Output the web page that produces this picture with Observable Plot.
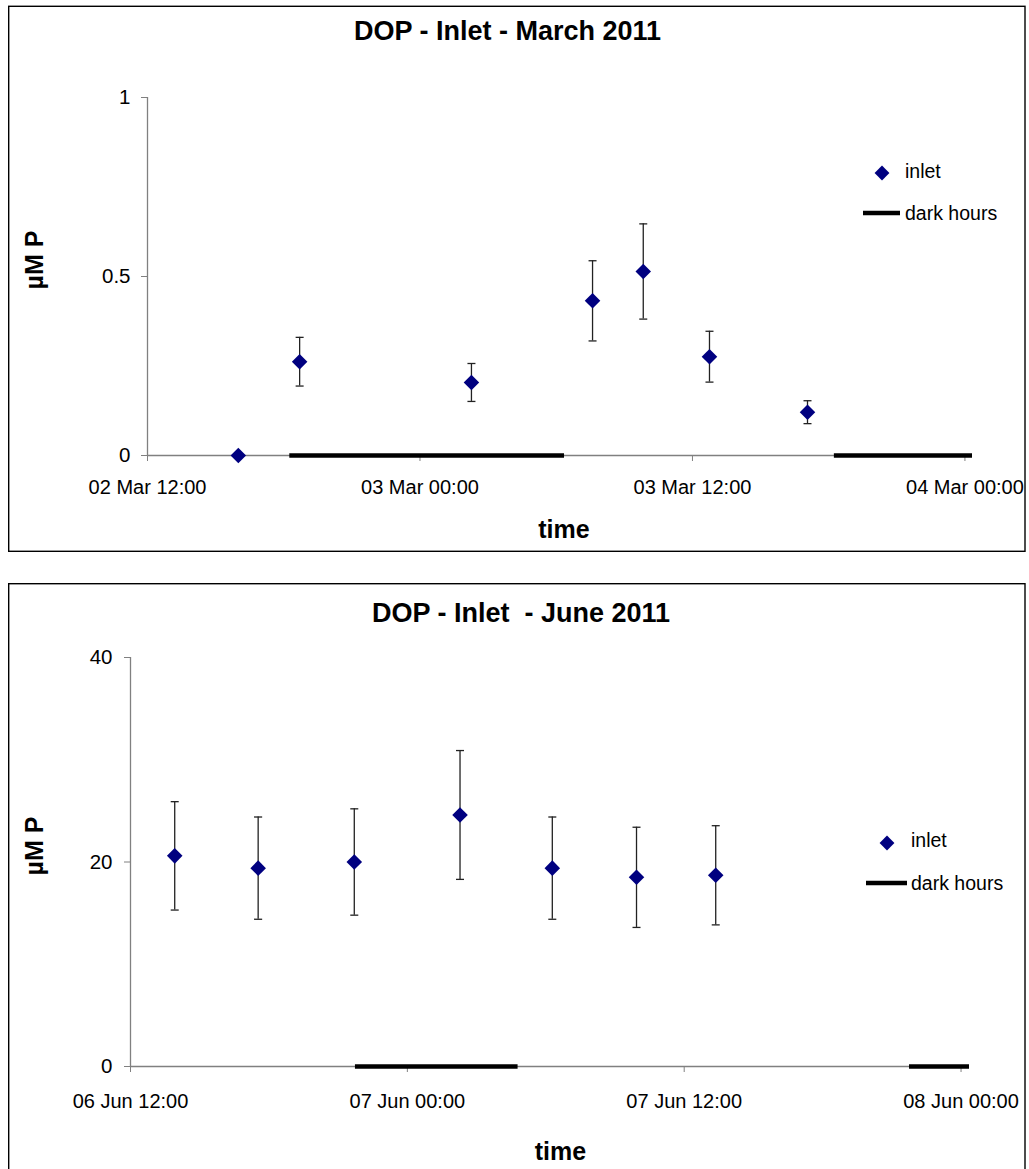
<!DOCTYPE html>
<html><head><meta charset="utf-8">
<script src="https://cdn.jsdelivr.net/npm/d3@7"></script>
<script src="https://cdn.jsdelivr.net/npm/@observablehq/plot@0.6"></script>
<style>
body{margin:0;background:#fff;font-family:"Liberation Sans",Arial,sans-serif;}
#page{position:relative;width:1029px;height:1169px;overflow:hidden;background:#fff;}
#page > svg{position:absolute;left:0;}
</style></head><body><div id="page"></div>
<script>
// ---- March 2011 ----
const marchTimes = ["2011-03-02T16:00","2011-03-02T18:42","2011-03-03T02:16","2011-03-03T07:36","2011-03-03T09:50","2011-03-03T12:45","2011-03-03T17:04"];
const marchValues = [0, 0.262, 0.204, 0.432, 0.514, 0.276, 0.121];
const marchErrors = [0, 0.068, 0.053, 0.112, 0.133, 0.071, 0.032];
const marchDarkStart = ["2011-03-02T18:16","2011-03-03T18:15"];
const marchDarkEnd = ["2011-03-03T06:22","2011-03-04T00:20"];
const marchXDomain = ["2011-03-02T12:00","2011-03-04T00:20"];
const marchXTicks = ["2011-03-02T12:00","2011-03-03T00:00","2011-03-03T12:00","2011-03-04T00:00"];
const marchYTicks = [0, 0.5, 1];

// ---- June 2011 ----
const juneTimes = ["2011-06-06T13:55","2011-06-06T17:32","2011-06-06T21:42","2011-06-07T02:17","2011-06-07T06:17","2011-06-07T09:56","2011-06-07T13:22"];
const juneValues = [20.6, 19.4, 20.0, 24.6, 19.4, 18.5, 18.7];
const juneErrors = [5.3, 5.0, 5.2, 6.3, 5.0, 4.9, 4.85];
const juneDarkStart = ["2011-06-06T21:45","2011-06-07T21:46"];
const juneDarkEnd = ["2011-06-07T04:48","2011-06-08T00:22"];
const juneXDomain = ["2011-06-06T12:00","2011-06-08T00:22"];
const juneXTicks = ["2011-06-06T12:00","2011-06-07T00:00","2011-06-07T12:00","2011-06-08T00:00"];
const juneYTicks = [0, 20, 40];

const parse = d3.utcParse("%Y-%m-%dT%H:%M");
const fmt = d3.utcFormat("%d %b %H:%M");
const FONT = "'Liberation Sans', Arial, sans-serif";
const page = document.getElementById("page");

const capSymbol = {draw(ctx){ ctx.moveTo(-4,0); ctx.lineTo(4,0); }};

function panel(o) {
  const pts = o.times.map((t,i)=>({time: parse(t), value: o.values[i], err: o.errors[i]}));
  const bars = pts.filter(d=>d.err>0);
  const dark = o.darkStart.map((s,i)=>({start: parse(s), end: parse(o.darkEnd[i])}));
  const chart = Plot.plot({
    width: 1029, height: o.height,
    marginLeft: o.ml, marginRight: o.mr, marginTop: o.mt, marginBottom: o.mb,
    x: {type: "utc", domain: o.xDomain.map(parse)},
    y: {domain: [o.yTicks[0], o.yTicks[o.yTicks.length-1]]},
    style: {fontFamily: FONT, fontSize: "20px", color: "#000", background: "transparent", overflow: "visible"},
    marks: [
      Plot.ruleX([parse(o.xDomain[0])], {stroke: "#808080", strokeWidth: 1.3}),
      Plot.ruleY([0], {stroke: "#808080", strokeWidth: 1.3}),
      Plot.axisX(o.xTicks.map(parse), {tickFormat: fmt, tickSize: 6, tickPadding: o.padX, stroke: "#808080", fill: "#000", label: null, fontSize: 20}),
      Plot.axisY(o.yTicks, {tickFormat: d => String(d), tickSize: 6, tickPadding: o.padY, stroke: "#808080", fill: "#000", label: null, fontSize: 20.5}),
      Plot.ruleY(dark, {x1: "start", x2: "end", y: () => 0, stroke: "#000", strokeWidth: 4.5}),
      Plot.ruleX(bars, {x: "time", y1: d => d.value - d.err, y2: d => d.value + d.err, stroke: "#222", strokeWidth: 1.3}),
      Plot.dot(bars, {x: "time", y: d => d.value + d.err, symbol: capSymbol, r: 3, stroke: "#222", strokeWidth: 1.3, fill: "none"}),
      Plot.dot(bars, {x: "time", y: d => d.value - d.err, symbol: capSymbol, r: 3, stroke: "#222", strokeWidth: 1.3, fill: "none"}),
      Plot.dot(pts, {x: "time", y: "value", symbol: "diamond2", r: 7, fill: "#000080", stroke: "none"})
    ]
  });
  chart.style.top = o.top + "px";
  page.appendChild(chart);
}

panel({times: marchTimes, values: marchValues, errors: marchErrors, darkStart: marchDarkStart, darkEnd: marchDarkEnd,
  xDomain: marchXDomain, xTicks: marchXTicks, yTicks: marchYTicks,
  top: 0, height: 555, ml: 147, mr: 57, mt: 97, mb: 100, padX: 18, padY: 11});
panel({times: juneTimes, values: juneValues, errors: juneErrors, darkStart: juneDarkStart, darkEnd: juneDarkEnd,
  xDomain: juneXDomain, xTicks: juneXTicks, yTicks: juneYTicks,
  top: 570, height: 599, ml: 130, mr: 60, mt: 87, mb: 103, padX: 21, padY: 12});

// ---- decorations: frames, titles, axis titles, legends ----
const svg = d3.select(page).append("svg").attr("width", 1029).attr("height", 1169)
  .style("top", "0px").style("font-family", FONT);
svg.append("rect").attr("x", 8.7).attr("y", 6.3).attr("width", 1016.3).attr("height", 545)
  .attr("fill", "none").attr("stroke", "#000").attr("stroke-width", 1.4);
svg.append("rect").attr("x", 8.7).attr("y", 583.7).attr("width", 1016.3).attr("height", 600)
  .attr("fill", "none").attr("stroke", "#000").attr("stroke-width", 1.4);

const panels = [
  {title: "DOP - Inlet - March 2011", tx: 507.5, ty: 39.5, timeX: 564, timeY: 537.5, yLabX: 43, yLabY: 260,
   dx: 882, dy: 173, inletY: 178, lx1: 863, lx2: 900, ly: 213, darkY: 219.5, textX: 905},
  {title: "DOP - Inlet\u00a0 - June 2011", tx: 521, ty: 621.5, timeX: 560.5, timeY: 1160, yLabX: 43, yLabY: 846,
   dx: 887, dy: 843, inletY: 847, lx1: 866, lx2: 907, ly: 883, darkY: 890, textX: 911}
];
const diamond = d3.symbol(d3.symbolDiamond2, 140)();
for (const p of panels) {
  svg.append("text").attr("x", p.tx).attr("y", p.ty).attr("text-anchor", "middle")
    .attr("font-size", 27).attr("font-weight", "bold").text(p.title);
  svg.append("text").attr("x", p.timeX).attr("y", p.timeY).attr("text-anchor", "middle")
    .attr("font-size", 25).attr("font-weight", "bold").text("time");
  svg.append("text").attr("transform", `translate(${p.yLabX},${p.yLabY}) rotate(-90)`).attr("text-anchor", "middle")
    .attr("font-size", 25).attr("font-weight", "bold").text("\u00b5M P");
  svg.append("path").attr("d", diamond).attr("transform", `translate(${p.dx},${p.dy})`).attr("fill", "#000080");
  svg.append("text").attr("x", p.textX).attr("y", p.inletY).attr("font-size", 19.5).text("inlet");
  svg.append("line").attr("x1", p.lx1).attr("x2", p.lx2).attr("y1", p.ly).attr("y2", p.ly)
    .attr("stroke", "#000").attr("stroke-width", 4.5);
  svg.append("text").attr("x", p.textX).attr("y", p.darkY).attr("font-size", 19.5).text("dark hours");
}
</script></body></html>
